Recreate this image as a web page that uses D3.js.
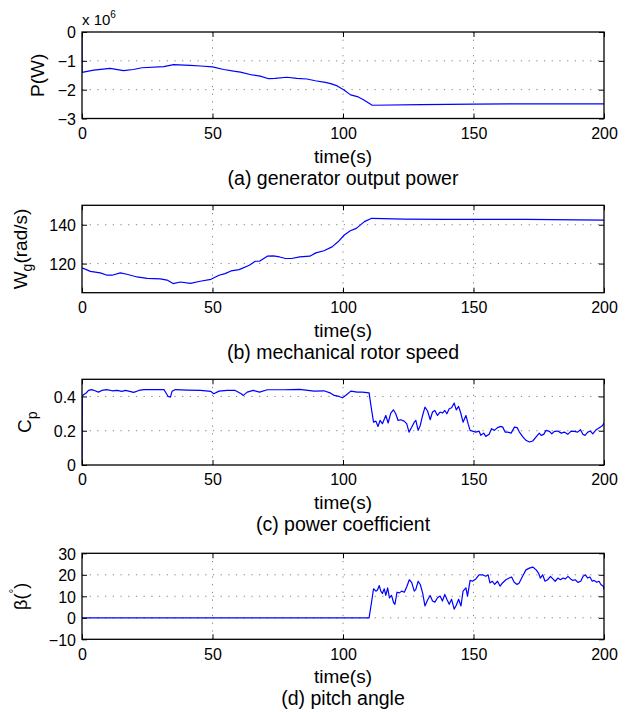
<!DOCTYPE html>
<html><head><meta charset="utf-8">
<script src="https://cdn.jsdelivr.net/npm/d3@7"></script>
<style>body{margin:0;background:#fff}svg{display:block}text{font-family:"Liberation Sans",Arial,Helvetica,sans-serif;fill:#000}</style>
</head><body><svg id="c" width="634" height="712"></svg>
<script>
// ---- data ----
const xTicks = [0, 50, 100, 150, 200];

// (a) generator output power, units of 10^6 W
const tP = [0, 0.01, 4.5, 10.8, 15.9, 19.7, 23, 31.3, 35.1, 41.5, 45.4, 50, 54.3, 58.1, 60.7, 65.2, 68.3, 71.5, 74, 78.5, 82.3, 86.2, 89.4, 93.2, 95.3, 97.8, 100.4, 102.9, 105.5, 108, 111.2, 130, 150, 175, 200];
const vP = [0, -1.40, -1.32, -1.26, -1.34, -1.30, -1.24, -1.20, -1.13, -1.16, -1.18, -1.21, -1.30, -1.36, -1.39, -1.49, -1.53, -1.62, -1.61, -1.57, -1.61, -1.63, -1.69, -1.75, -1.79, -1.87, -2.01, -2.18, -2.24, -2.36, -2.54, -2.52, -2.50, -2.49, -2.49];
const yTicksP = [-3, -2, -1, 0];

// (b) mechanical rotor speed (rad/s)
const tW = [0, 3.2, 7.0, 9.6, 11.5, 14.7, 17.2, 21.1, 24.9, 30.0, 32.6, 34.9, 37.7, 41.5, 45.3, 49.4, 52.5, 54.8, 57.1, 60.2, 64.1, 66.4, 68, 71, 73.3, 75.7, 78, 80.3, 83.4, 87.3, 89.6, 92.7, 95.8, 98.1, 100.5, 102.8, 105.1, 108.2, 111, 123.7, 139.2, 170.1, 200];
const vW = [117.8, 116.0, 115.2, 114.0, 114.0, 115.2, 114.5, 113.1, 112.4, 112.1, 111.5, 109.7, 110.5, 109.8, 110.9, 111.9, 114.0, 114.8, 116.2, 116.9, 119.1, 121.2, 121.2, 123.8, 124.0, 123.4, 122.6, 122.6, 123.4, 123.8, 125.5, 126.6, 128.6, 131.2, 134.7, 136.9, 138.1, 141.6, 143.3, 142.9, 142.8, 142.8, 142.4];
const yTicksW = [120, 140];

// (c) power coefficient
const tC = [0, 0.1, 0.6, 1.6, 2.5, 3.7, 5, 6.3, 7.6, 9.5, 11.5, 13.4, 15.3, 16.6, 17.9, 19.8, 21.8, 23.7, 27.5, 31.4, 32.2, 33, 33.9, 34.5, 35.8, 40.3, 45.4, 49.4, 50.5, 52.5, 55.6, 58.7, 61, 61.8, 63.3, 65.6, 68, 71, 77.2, 83.4, 88.9, 92.7, 95.3, 96.6, 98.5, 99.8, 101.0, 103.0, 105.5, 107.4, 110.0,
  110.6, 111.7, 112.6, 113.4, 114.2, 115.1, 116.4, 117.3, 118.3, 119.3, 120.2, 121.1, 122.1, 123.4, 124.4, 125.3, 126.2, 127.3, 127.9, 128.8, 129.6, 130.5, 131.4, 132.4, 133.4, 134.3, 135.2, 136.2, 137.2, 138.1, 139.0, 139.8, 140.7, 141.6, 142.6, 143.4, 144.3, 145.2, 146.0, 147.1, 148.0, 148.7, 149.6,
  150.9, 152.1, 152.8, 153.9, 154.7, 156.0, 156.9, 158.0, 159.2, 160.5, 161.2, 162.1, 163.1, 164.4, 165.7, 166.7, 167.6, 168.9, 170.1, 171.4, 172.7, 174.0, 175.2, 175.9, 176.9, 177.8, 179.1, 180.0, 181.0, 182.3, 183.6, 184.8, 186.1, 187.4, 188.7, 189.9, 191.0, 191.9, 192.7, 193.8, 194.8, 195.7, 197.0, 198.2, 199.5, 200];
const vC = [0, 0.40, 0.41, 0.42, 0.435, 0.44, 0.433, 0.425, 0.435, 0.44, 0.433, 0.435, 0.43, 0.435, 0.431, 0.424, 0.435, 0.44, 0.44, 0.44, 0.42, 0.40, 0.396, 0.43, 0.44, 0.437, 0.435, 0.429, 0.416, 0.431, 0.435, 0.435, 0.416, 0.406, 0.425, 0.435, 0.425, 0.439, 0.439, 0.441, 0.431, 0.433, 0.419, 0.406, 0.40, 0.392, 0.406, 0.431, 0.425, 0.425, 0.421,
  0.357, 0.25, 0.256, 0.225, 0.26, 0.241, 0.289, 0.245, 0.303, 0.322, 0.299, 0.26, 0.264, 0.256, 0.241, 0.192, 0.217, 0.25, 0.26, 0.202, 0.231, 0.289, 0.338, 0.315, 0.264, 0.309, 0.318, 0.289, 0.309, 0.303, 0.318, 0.299, 0.328, 0.334, 0.361, 0.322, 0.342, 0.299, 0.25, 0.289, 0.237, 0.202, 0.198,
  0.192, 0.198, 0.173, 0.186, 0.167, 0.179, 0.212, 0.202, 0.218, 0.225, 0.221, 0.192, 0.192, 0.186, 0.221, 0.218, 0.192, 0.164, 0.144, 0.134, 0.14, 0.164, 0.186, 0.173, 0.179, 0.202, 0.196, 0.182, 0.196, 0.198, 0.186, 0.192, 0.179, 0.198, 0.196, 0.192, 0.206, 0.179, 0.173, 0.192, 0.198, 0.182, 0.206, 0.218, 0.231, 0.245];
const yTicksC = [0, 0.2, 0.4];

// (d) pitch angle (deg)
const tB = [0, 110, 110.9, 111.7, 112.6, 113.2, 113.9, 114.5, 115.1, 115.8, 116.4, 117.1, 117.8, 118.6, 119.4, 119.9, 120.7, 121.6, 122.5, 123.5, 124.5, 125.4, 126.3, 127.3, 127.9, 128.8, 129.6, 130.5, 131.4, 132.4, 133.4, 134.3, 135.2, 136.2, 137.2, 138.1, 139.0, 139.8, 140.7, 141.6, 142.6, 143.4, 144.3, 145.2, 146.0, 147.1, 147.7, 148.7, 149.6,
  150.9, 152.1, 153.4, 154.7, 155.6, 156.3, 157.2, 158.1, 159.2, 160.2, 161.1, 162.4, 163.7, 164.6, 165.6, 166.7, 167.5, 168.8, 170.1, 171.4, 172.7, 174.0, 174.9, 175.6, 176.5, 177.4, 178.4, 179.5, 180.4, 181.3, 182.3, 183.3, 184.3, 185.2, 186.2, 187.2, 188.1, 189.0, 190.0, 191.1, 192.0, 192.9, 193.7, 194.6, 195.5, 196.2, 197.2, 198.1, 198.8, 199.7, 200];
const vB = [0, 0, 7.0, 13.5, 12.4, 12.9, 15.0, 12.4, 11.3, 13.5, 10.4, 13.9, 9.3, 10.4, 7.0, 6.3, 11.9, 11.6, 12.4, 11.9, 14.7, 17.7, 16.5, 12.4, 13.2, 17.0, 15.5, 11.6, 5.5, 8.3, 10.4, 7.8, 7.3, 9.3, 10.1, 7.8, 10.9, 8.6, 6.3, 8.6, 4.0, 5.8, 8.6, 5.5, 12.4, 13.9, 10.1, 17.4, 17.0,
  18.1, 20.0, 20.0, 19.3, 20.0, 16.2, 17.0, 15.5, 17.0, 14.7, 16.2, 17.7, 18.5, 19.0, 16.5, 15.5, 16.2, 19.3, 22.3, 23.1, 23.6, 22.3, 20.8, 18.5, 20.0, 17.0, 17.7, 19.3, 18.1, 17.0, 18.5, 17.7, 18.5, 18.1, 19.3, 18.1, 17.4, 17.7, 16.5, 17.0, 19.3, 20.0, 18.5, 19.0, 17.0, 17.4, 16.5, 17.0, 15.5, 14.7, 13.2];
const yTicksB = [-10, 0, 10, 20, 30];

// ---- drawing ----
const svg = d3.select("#c");
const X0 = 82, X1 = 604;
const x = d3.scaleLinear().domain([0, 200]).range([X0, X1]);

const panels = [
  {t: tP, v: vP, dom: [-3, 0], ticks: yTicksP, top: 32, bot: 118.5, cap: "(a) generator output power", fmt: d => d === 0 ? "0" : "\u2212" + Math.abs(d), lab: "P", labX: 44},
  {t: tW, v: vW, dom: [105, 150], ticks: yTicksW, top: 205.3, bot: 292.7, cap: "(b) mechanical rotor speed", fmt: d => String(d), lab: "W", labX: 27},
  {t: tC, v: vC, dom: [0, 0.5], ticks: yTicksC, top: 379.3, bot: 465, cap: "(c) power coefficient", fmt: d => d === 0 ? "0" : d.toFixed(1), lab: "C", labX: 31},
  {t: tB, v: vB, dom: [-10, 30], ticks: yTicksB, top: 553.3, bot: 639.3, cap: "(d) pitch angle", fmt: d => d < 0 ? "\u2212" + Math.abs(d) : String(d), lab: "B", labX: 27}
];

function stext(g, px, py, str, size, anchor, rot) {
  const t = g.append("text")
    .attr("transform", `translate(${px},${py})` + (rot ? " rotate(-90)" : ""))
    .attr("text-anchor", anchor).attr("font-size", size);
  if (str != null) t.text(str);
  return t;
}

panels.forEach((p, i) => {
  const y = d3.scaleLinear().domain(p.dom).range([p.bot, p.top]);
  const g = svg.append("g");
  const cid = "clip" + i;
  svg.append("clipPath").attr("id", cid).append("rect")
    .attr("x", X0).attr("y", p.top).attr("width", X1 - X0).attr("height", p.bot - p.top);

  // grid
  const grid = g.append("g").attr("stroke", "#000").attr("stroke-width", 0.9)
    .attr("stroke-dasharray", "1.2,6.5").attr("opacity", 0.55);
  xTicks.filter(d => d > 0 && d < 200).forEach(d => {
    grid.append("line").attr("x1", x(d)).attr("x2", x(d)).attr("y1", p.top).attr("y2", p.bot);
  });
  p.ticks.filter(d => d > p.dom[0] && d < p.dom[1]).forEach(d => {
    grid.append("line").attr("x1", X0).attr("x2", X1).attr("y1", y(d)).attr("y2", y(d));
  });

  // data line
  g.append("path")
    .datum(p.t.map((tt, k) => [tt, p.v[k]]))
    .attr("clip-path", `url(#${cid})`)
    .attr("fill", "none").attr("stroke", "#0000ff").attr("stroke-width", 1.2)
    .attr("stroke-linejoin", "round")
    .attr("d", d3.line().x(d => x(d[0])).y(d => y(d[1])));

  // axes (ticks inside, MATLAB box)
  const axB = g.append("g").attr("transform", `translate(0,${p.bot})`)
    .call(d3.axisBottom(x).tickValues(xTicks).tickSize(-5).tickSizeOuter(0).tickPadding(9).tickFormat(d => d));
  const axT = g.append("g").attr("transform", `translate(0,${p.top})`)
    .call(d3.axisTop(x).tickValues(xTicks).tickSize(-5).tickSizeOuter(0).tickFormat(""));
  const axL = g.append("g").attr("transform", `translate(${X0},0)`)
    .call(d3.axisLeft(y).tickValues(p.ticks).tickSize(-5).tickSizeOuter(0).tickPadding(6).tickFormat(p.fmt));
  const axR = g.append("g").attr("transform", `translate(${X1},0)`)
    .call(d3.axisRight(y).tickValues(p.ticks).tickSize(-5).tickSizeOuter(0).tickFormat(""));
  [axB, axT, axL, axR].forEach(a => {
    a.select(".domain").remove();
    a.selectAll("line").attr("stroke", "#000").attr("stroke-width", 1);
    a.selectAll("text").attr("font-size", 16).attr("fill", "#000")
      .attr("font-family", '"Liberation Sans",Arial,sans-serif');
  });
  axL.selectAll("text").attr("dy", "0.36em");

  // box
  g.append("rect").attr("x", X0).attr("y", p.top).attr("width", X1 - X0).attr("height", p.bot - p.top)
    .attr("fill", "none").attr("stroke", "#000").attr("stroke-width", 1.3);

  // x label & caption
  stext(g, (X0 + X1) / 2, p.bot + 44, "time(s)", 19, "middle");
  stext(g, (X0 + X1) / 2, p.bot + 66, p.cap, 19.5, "middle");

  // y label
  const cy = (p.top + p.bot) / 2;
  const t = stext(g, p.labX, cy, null, p.lab === "B" ? 18 : 19, "middle", true);
  if (p.lab === "P") t.text("P(W)");
  if (p.lab === "W") { t.append("tspan").text("W"); t.append("tspan").attr("font-size", 14).attr("dy", 5).text("g"); t.append("tspan").attr("dy", -5).text("(rad/s)"); }
  if (p.lab === "C") { t.append("tspan").text("C"); t.append("tspan").attr("font-size", 14).attr("dy", 6).text("p"); }
  if (p.lab === "B") { t.append("tspan").text("\u03B2("); t.append("tspan").attr("font-size", 12).attr("dy", -9).text("\u00B0"); t.append("tspan").attr("dy", 9).text(")"); }

  if (i === 0) {
    const e = stext(g, X0, 25, null, 15, "start");
    e.append("tspan").text("x 10");
    e.append("tspan").attr("font-size", 10).attr("dy", -7).text("6");
  }
});
</script></body></html>
